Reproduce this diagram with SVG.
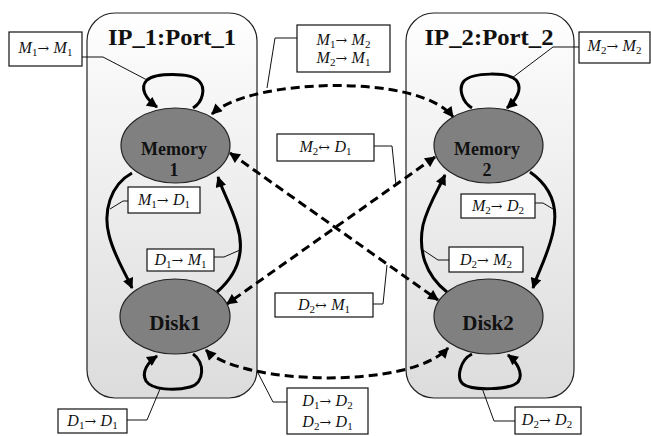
<svg xmlns="http://www.w3.org/2000/svg" width="651" height="436" viewBox="0 0 651 436">
  <style>
    .port { stroke: #222; stroke-width: 1.2; fill: url(#portFill); }
    .title { font-family: "Liberation Serif", "Times New Roman", serif; font-weight: bold; font-size: 24px; fill: #111; text-anchor: middle; }
    .state { fill: #808080; stroke: #222; stroke-width: 1.2; }
    .stname { font-family: "Liberation Serif", "Times New Roman", serif; font-weight: bold; fill: #111; text-anchor: middle; }
    .box { fill: #fff; stroke: #111; stroke-width: 1.2; }
    .lbl { font-family: "Liberation Serif", "Times New Roman", serif; font-size: 16px; fill: #111; text-anchor: middle; }
    .lbl .v { font-style: italic; }
    .lbl .s { font-size: 11px; }
    .lbl .a { font-family: "DejaVu Serif", serif; font-size: 14px; }
    .lead { fill: none; stroke: #111; stroke-width: 1; }
    .solid { fill: none; stroke: #000; stroke-width: 3; marker-end: url(#head); }
    .dash { fill: none; stroke: #000; stroke-width: 3; stroke-dasharray: 9 5; marker-end: url(#head); marker-start: url(#head); }
  </style>
  <defs>
    <linearGradient id="portFill" x1="0" y1="0" x2="0" y2="1">
      <stop offset="0" stop-color="#ffffff"/>
      <stop offset="0.15" stop-color="#f8f8f8"/>
      <stop offset="1" stop-color="#dcdcdc"/>
    </linearGradient>
    <marker id="head" viewBox="0 0 10 10" refX="9" refY="5" markerWidth="4" markerHeight="3.6" orient="auto-start-reverse" markerUnits="strokeWidth">
      <path d="M0,0 L10,5 L0,10 Z" fill="#000"/>
    </marker>
  </defs>

  <!-- port containers -->
  <g id="port1">
    <rect class="port" x="87" y="13" width="170" height="385" rx="28"/>
    <text class="title" x="172" y="45" textLength="128" lengthAdjust="spacingAndGlyphs">IP_1:Port_1</text>
  </g>
  <g id="port2">
    <rect class="port" x="406" y="13" width="168" height="385" rx="28"/>
    <text class="title" x="489" y="45" textLength="129" lengthAdjust="spacingAndGlyphs">IP_2:Port_2</text>
  </g>

  <!-- transitions -->
  <g id="connectors">
    <!-- self loops -->
    <path class="solid" d="M193,108 C203,102 206,88 199,81 C190,72 155,73 147,80 C139,88 146,99 157,107"/>
    <path class="solid" d="M472,108 C462,102 458,88 464,81 C473,72 508,72 516,80 C523,88 517,99 507,108"/>
    <path class="solid" d="M193,354 C205,362 205,383 190,387 C175,391 152,390 146,381 C141,372 148,362 157,356"/>
    <path class="solid" d="M472,354 C460,360 456,378 463,384 C472,391 510,390 518,382 C524,374 517,362 508,355"/>
    <!-- memory/disk within a port -->
    <path class="solid" d="M132,173 C110,185 103,212 109,235 C114,256 125,272 132,288"/>
    <path class="solid" d="M217,292 C240,272 245,250 237,225 C231,205 222,190 218,177"/>
    <path class="solid" d="M530,172 C553,188 558,210 553,232 C548,255 538,272 533,288"/>
    <path class="solid" d="M447,292 C425,275 418,250 423,225 C428,205 438,190 445,175"/>
    <!-- across ports -->
    <path class="dash" d="M212,114 C250,78 420,73 453,117"/>
    <path class="dash" d="M206,350 C240,385 410,390 448,348"/>
    <path class="dash" d="M230,153 L438,300"/>
    <path class="dash" d="M435,157 L227,304"/>
    <!-- label leaders -->
    <path class="lead" d="M82,57 L103,57 L147,80"/>
    <path class="lead" d="M579,47 L553,47 L512,78"/>
    <path class="lead" d="M297,38 L275,38 L267,88"/>
    <path class="lead" d="M374,146 L392,146 L396,185"/>
    <path class="lead" d="M373,304 L383,304 L387,265"/>
    <path class="lead" d="M128,201 L123,201 L110,209"/>
    <path class="lead" d="M214,257 L224,257 L240,250"/>
    <path class="lead" d="M535,203 L543,203 L553,209"/>
    <path class="lead" d="M449,260 L438,260 L423,250"/>
    <path class="lead" d="M127,420 L147,420 L160,389"/>
    <path class="lead" d="M515,421 L494,421 L482,388"/>
    <path class="lead" d="M287,402 L273,402 L258,373"/>
  </g>

  <!-- states -->
  <g id="memory1">
    <ellipse class="state" cx="175.5" cy="145.5" rx="54.5" ry="37.5"/>
    <text class="stname" x="174" y="155" font-size="18" textLength="66" lengthAdjust="spacingAndGlyphs">Memory</text>
    <text class="stname" x="174" y="176" font-size="18">1</text>
  </g>
  <g id="disk1">
    <ellipse class="state" cx="175" cy="316.5" rx="55" ry="37.5"/>
    <text class="stname" x="175" y="330" font-size="21">Disk1</text>
  </g>
  <g id="memory2">
    <ellipse class="state" cx="488.5" cy="145.5" rx="54.5" ry="37.5"/>
    <text class="stname" x="487" y="155" font-size="18" textLength="66" lengthAdjust="spacingAndGlyphs">Memory</text>
    <text class="stname" x="487" y="176" font-size="18">2</text>
  </g>
  <g id="disk2">
    <ellipse class="state" cx="488.5" cy="316.5" rx="54.5" ry="37.5"/>
    <text class="stname" x="488" y="330" font-size="21">Disk2</text>
  </g>

  <!-- transition labels -->
  <g id="lbl-m1m1">
    <rect class="box" x="9" y="32" width="73" height="34"/>
    <text class="lbl" x="45.5" y="53"><tspan class="v">M</tspan><tspan class="s" dy="3">1</tspan><tspan class="a" dy="-3">→ </tspan><tspan class="v">M</tspan><tspan class="s" dy="3">1</tspan></text>
  </g>
  <g id="lbl-m1m2">
    <rect class="box" x="297" y="25" width="93" height="47"/>
    <text class="lbl" x="343.5" y="45"><tspan class="v">M</tspan><tspan class="s" dy="3">1</tspan><tspan class="a" dy="-3">→ </tspan><tspan class="v">M</tspan><tspan class="s" dy="3">2</tspan></text>
    <text class="lbl" x="343.5" y="63"><tspan class="v">M</tspan><tspan class="s" dy="3">2</tspan><tspan class="a" dy="-3">→ </tspan><tspan class="v">M</tspan><tspan class="s" dy="3">1</tspan></text>
  </g>
  <g id="lbl-m2m2">
    <rect class="box" x="579" y="32" width="71" height="31"/>
    <text class="lbl" x="614.5" y="51"><tspan class="v">M</tspan><tspan class="s" dy="3">2</tspan><tspan class="a" dy="-3">→ </tspan><tspan class="v">M</tspan><tspan class="s" dy="3">2</tspan></text>
  </g>
  <g id="lbl-m2d1">
    <rect class="box" x="277" y="134" width="97" height="27"/>
    <text class="lbl" x="325.5" y="152"><tspan class="v">M</tspan><tspan class="s" dy="3">2</tspan><tspan class="a" dy="-3">↔ </tspan><tspan class="v">D</tspan><tspan class="s" dy="3">1</tspan></text>
  </g>
  <g id="lbl-m1d1">
    <rect class="box" x="128" y="187" width="72" height="26"/>
    <text class="lbl" x="164" y="205"><tspan class="v">M</tspan><tspan class="s" dy="3">1</tspan><tspan class="a" dy="-3">→ </tspan><tspan class="v">D</tspan><tspan class="s" dy="3">1</tspan></text>
  </g>
  <g id="lbl-d1m1">
    <rect class="box" x="147" y="249" width="67" height="22"/>
    <text class="lbl" x="180.5" y="265"><tspan class="v">D</tspan><tspan class="s" dy="3">1</tspan><tspan class="a" dy="-3">→ </tspan><tspan class="v">M</tspan><tspan class="s" dy="3">1</tspan></text>
  </g>
  <g id="lbl-m2d2">
    <rect class="box" x="461" y="194" width="74" height="24"/>
    <text class="lbl" x="498" y="211"><tspan class="v">M</tspan><tspan class="s" dy="3">2</tspan><tspan class="a" dy="-3">→ </tspan><tspan class="v">D</tspan><tspan class="s" dy="3">2</tspan></text>
  </g>
  <g id="lbl-d2m2">
    <rect class="box" x="449" y="247" width="74" height="25"/>
    <text class="lbl" x="486" y="265"><tspan class="v">D</tspan><tspan class="s" dy="3">2</tspan><tspan class="a" dy="-3">→ </tspan><tspan class="v">M</tspan><tspan class="s" dy="3">2</tspan></text>
  </g>
  <g id="lbl-d2m1">
    <rect class="box" x="275" y="293" width="98" height="24"/>
    <text class="lbl" x="324" y="310"><tspan class="v">D</tspan><tspan class="s" dy="3">2</tspan><tspan class="a" dy="-3">↔ </tspan><tspan class="v">M</tspan><tspan class="s" dy="3">1</tspan></text>
  </g>
  <g id="lbl-d1d1">
    <rect class="box" x="58" y="409" width="69" height="24"/>
    <text class="lbl" x="92.5" y="426"><tspan class="v">D</tspan><tspan class="s" dy="3">1</tspan><tspan class="a" dy="-3">→ </tspan><tspan class="v">D</tspan><tspan class="s" dy="3">1</tspan></text>
  </g>
  <g id="lbl-d1d2">
    <rect class="box" x="287" y="388" width="81" height="46"/>
    <text class="lbl" x="327.5" y="406"><tspan class="v">D</tspan><tspan class="s" dy="3">1</tspan><tspan class="a" dy="-3">→ </tspan><tspan class="v">D</tspan><tspan class="s" dy="3">2</tspan></text>
    <text class="lbl" x="327.5" y="427"><tspan class="v">D</tspan><tspan class="s" dy="3">2</tspan><tspan class="a" dy="-3">→ </tspan><tspan class="v">D</tspan><tspan class="s" dy="3">1</tspan></text>
  </g>
  <g id="lbl-d2d2">
    <rect class="box" x="515" y="407" width="66" height="27"/>
    <text class="lbl" x="547" y="425"><tspan class="v">D</tspan><tspan class="s" dy="3">2</tspan><tspan class="a" dy="-3">→ </tspan><tspan class="v">D</tspan><tspan class="s" dy="3">2</tspan></text>
  </g>
</svg>
